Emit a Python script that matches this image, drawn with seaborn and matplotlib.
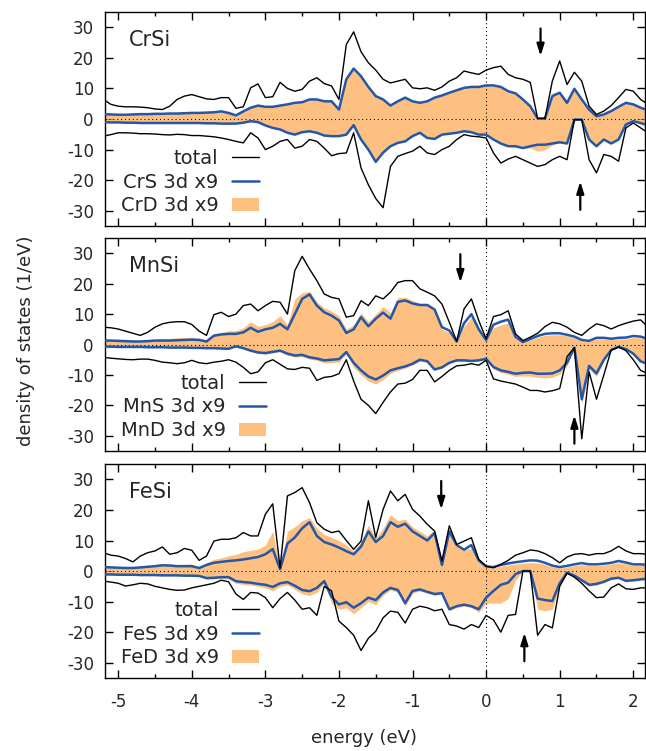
import numpy as np
import pandas as pd
import matplotlib
matplotlib.use("Agg")
import matplotlib.pyplot as plt
import seaborn as sns
from matplotlib.lines import Line2D
from matplotlib.patches import Patch
from matplotlib.ticker import MultipleLocator

# ---------------- data ----------------
energy = np.round(np.arange(-5.2, 2.25, 0.1), 2)   # 75 sample energies (eV)

panel_names = ["CrSi", "MnSi", "FeSi"]
blue_labels = ["CrS 3d x9", "MnS 3d x9", "FeS 3d x9"]
orange_labels = ["CrD 3d x9", "MnD 3d x9", "FeD 3d x9"]

crsi_total_up = [6.4, 4.8, 4.2, 4.0, 4.0, 3.9, 3.7, 3.3, 3.1, 4.2,
                 6.4, 7.5, 8.0, 7.3, 6.6, 6.4, 7.0, 7.0, 3.5, 4.0,
                 10.2, 11.5, 7.0, 7.3, 12.0, 10.0, 9.1, 9.7, 12.4, 13.5,
                 11.6, 10.8, 6.4, 24.4, 28.5, 22.0, 18.4, 16.0, 13.0, 11.8,
                 12.4, 13.0, 10.2, 9.9, 10.2, 9.4, 10.5, 12.4, 13.5, 15.7,
                 15.1, 14.6, 16.0, 16.8, 17.3, 14.6, 13.5, 13.0, 12.0, 0.2,
                 0.2, 12.4, 19.0, 11.3, 15.3, 12.4, 4.2, 1.5, 2.6, 4.4,
                 7.0, 9.7, 9.1, 6.4, 4.8]
crsi_blue_up = [1.6, 1.5, 1.4, 1.4, 1.5, 1.6, 1.6, 1.7, 1.7, 1.8,
                1.8, 1.9, 2.0, 2.0, 2.1, 2.2, 2.5, 2.0, 1.2, 2.5,
                3.7, 4.4, 4.0, 4.0, 4.4, 4.8, 5.3, 5.5, 6.4, 6.4,
                5.8, 5.8, 3.1, 13.0, 16.5, 14.0, 10.5, 7.5, 6.4, 4.4,
                5.8, 7.0, 5.8, 5.3, 5.8, 7.0, 7.7, 8.6, 9.4, 10.2,
                10.5, 10.5, 11.0, 11.0, 10.5, 9.1, 8.4, 6.4, 4.2, 0.2,
                0.2, 7.5, 8.6, 5.3, 9.9, 6.4, 3.1, 0.9, 1.5, 2.6,
                4.0, 5.3, 4.8, 3.7, 2.9]
crsi_orange_up = [1.6, 1.5, 1.4, 1.4, 1.5, 1.6, 1.6, 1.7, 1.7, 1.8,
                  1.8, 1.9, 2.0, 2.0, 2.1, 2.2, 2.5, 2.0, 1.2, 2.5,
                  3.7, 4.4, 4.0, 4.0, 4.4, 4.8, 5.3, 5.5, 6.4, 6.4,
                  5.8, 5.8, 3.1, 13.0, 16.5, 14.0, 10.5, 7.5, 6.4, 4.4,
                  5.8, 7.0, 5.8, 5.3, 5.8, 7.0, 7.7, 8.6, 9.4, 10.2,
                  10.5, 10.5, 11.0, 11.0, 10.5, 9.1, 8.4, 6.4, 4.2, 0.2,
                  0.2, 8.5, 9.0, 5.3, 9.9, 6.4, 3.1, 0.9, 1.5, 2.6,
                  4.0, 5.3, 4.8, 3.7, 2.9]
crsi_blue_dn = [-1.0, -1.1, -1.1, -1.2, -1.2, -1.3, -1.3, -1.3, -1.3, -1.3,
                -1.3, -1.3, -1.3, -1.3, -1.4, -1.4, -1.5, -1.5, -1.5, -1.2,
                -0.7, -1.0, -2.1, -2.9, -3.4, -4.5, -5.1, -4.3, -4.0, -4.5,
                -5.4, -5.6, -5.6, -5.1, -2.0, -6.7, -10.0, -14.0, -11.0, -8.9,
                -7.8, -7.3, -5.6, -4.5, -6.2, -6.5, -5.1, -4.8, -4.5, -4.0,
                -4.3, -5.1, -5.1, -6.7, -8.0, -8.9, -8.9, -9.5, -8.9, -8.4,
                -8.4, -8.0, -7.6, -8.0, -0.2, -0.2, -6.7, -8.9, -6.7, -8.0,
                -6.7, -1.8, -0.7, -1.3, -2.1]
crsi_orange_dn = [-1.0, -1.1, -1.1, -1.2, -1.2, -1.3, -1.3, -1.3, -1.3, -1.3,
                  -1.3, -1.3, -1.3, -1.3, -1.4, -1.4, -1.5, -1.5, -1.5, -1.2,
                  -0.7, -1.0, -2.1, -2.9, -3.4, -4.5, -5.1, -4.3, -4.0, -4.5,
                  -5.4, -5.6, -5.6, -5.1, -2.0, -6.7, -10.0, -14.0, -11.0, -8.9,
                  -7.8, -7.3, -5.6, -4.5, -6.2, -6.5, -5.1, -4.8, -4.5, -4.0,
                  -4.3, -5.1, -5.1, -6.7, -8.0, -8.9, -8.9, -9.5, -9.5, -10.5,
                  -10.0, -8.5, -7.6, -8.0, -0.2, -0.2, -6.7, -8.9, -6.7, -8.0,
                  -6.7, -1.8, -0.7, -1.3, -2.1]
crsi_total_dn = [-5.6, -5.1, -4.5, -4.5, -4.6, -4.8, -4.8, -4.9, -5.1, -5.2,
                 -5.0, -5.1, -5.4, -5.4, -5.6, -5.8, -6.2, -6.7, -7.3, -7.8,
                 -4.5, -6.2, -10.0, -8.9, -7.3, -6.7, -9.5, -8.9, -6.7, -7.3,
                 -9.5, -12.0, -11.3, -11.1, -4.5, -16.0, -21.5, -26.0, -29.0, -15.5,
                 -12.2, -11.3, -10.5, -8.9, -11.1, -11.6, -10.0, -8.9, -6.7, -5.1,
                 -5.6, -5.8, -6.2, -11.1, -14.4, -13.1, -12.2, -13.3, -14.4, -15.5,
                 -14.9, -13.3, -12.2, -13.3, -0.2, -0.2, -13.3, -17.6, -11.6, -12.2,
                 -13.8, -2.9, -1.3, -2.9, -4.5]

mnsi_total_up = [5.7, 5.5, 5.1, 4.4, 3.7, 3.0, 4.0, 5.7, 6.8, 7.3,
                 7.5, 7.5, 6.6, 4.4, 3.0, 9.8, 10.6, 9.2, 10.0, 12.8,
                 13.3, 11.1, 12.8, 14.2, 13.9, 10.0, 24.3, 29.0, 24.8, 21.0,
                 16.6, 15.5, 15.0, 9.0, 9.5, 14.4, 12.8, 16.0, 15.0, 17.2,
                 20.4, 21.0, 21.0, 18.3, 17.2, 16.0, 13.3, 7.3, 1.0, 11.7,
                 15.0, 7.9, 1.9, 9.2, 9.8, 11.1, 3.5, 1.3, 2.4, 3.7,
                 5.9, 7.3, 6.8, 5.7, 4.0, 3.0, 5.1, 6.8, 6.2, 5.1,
                 6.2, 7.0, 7.7, 8.1, 5.7]
mnsi_blue_up = [1.3, 1.3, 1.2, 1.1, 1.0, 1.0, 1.1, 1.3, 1.3, 1.3,
                1.4, 1.5, 1.6, 1.5, 1.0, 2.9, 3.3, 3.5, 3.5, 4.0,
                5.5, 4.2, 5.0, 5.5, 6.8, 5.0, 10.0, 15.0, 16.5, 12.8,
                10.6, 9.5, 7.9, 3.8, 5.0, 9.0, 6.0, 8.5, 10.5, 8.5,
                14.0, 14.5, 13.5, 13.0, 13.0, 11.5, 5.7, 4.6, 1.0, 7.0,
                10.0, 5.0, 1.5, 6.5, 7.5, 8.2, 2.5, 0.8, 1.8, 2.8,
                3.5, 3.7, 3.7, 3.2, 2.6, 1.5, 1.2, 2.2, 2.2, 1.9,
                2.2, 2.3, 2.8, 2.6, 1.8]
mnsi_orange_up = [1.4, 1.4, 1.3, 1.2, 1.2, 1.3, 1.5, 1.7, 1.9, 2.0,
                  2.2, 2.3, 2.4, 2.0, 1.2, 3.6, 4.0, 4.5, 4.6, 5.5,
                  7.5, 6.0, 6.5, 7.5, 9.5, 6.5, 15.0, 17.0, 17.5, 14.0,
                  12.0, 11.0, 9.5, 5.0, 6.5, 10.5, 7.5, 10.0, 12.5, 10.5,
                  15.5, 15.5, 14.5, 13.5, 13.0, 11.0, 5.0, 4.0, 0.8, 6.0,
                  9.0, 4.5, 1.8, 5.5, 6.5, 7.0, 2.0, 0.8, 1.5, 2.4,
                  3.0, 3.2, 3.2, 2.8, 2.2, 1.2, 1.0, 1.8, 1.8, 1.6,
                  1.8, 1.9, 2.3, 2.2, 1.5]
mnsi_blue_dn = [-0.7, -0.7, -0.8, -0.8, -0.8, -0.8, -0.9, -0.9, -0.9, -1.0,
                -1.0, -1.0, -1.1, -1.1, -1.2, -1.2, -1.3, -1.4, -0.6, -1.2,
                -2.0, -2.6, -2.8, -2.4, -2.0, -3.0, -3.6, -3.4, -4.2, -4.6,
                -5.2, -5.0, -4.8, -2.5, -6.0, -8.5, -10.5, -11.5, -10.2, -8.5,
                -7.8, -7.2, -6.3, -5.0, -5.5, -8.2, -7.5, -6.0, -5.2, -5.2,
                -5.4, -5.2, -4.7, -7.4, -8.5, -9.0, -9.6, -9.3, -9.2, -9.6,
                -9.6, -9.5, -8.5, -6.0, -1.0, -18.0, -7.0, -9.5, -5.0, -1.8,
                -0.8, -1.5, -3.0, -5.5, -6.5]
mnsi_orange_dn = [-0.8, -0.8, -0.9, -0.9, -0.9, -0.9, -1.0, -1.0, -1.0, -1.1,
                  -1.1, -1.1, -1.2, -1.2, -1.3, -1.3, -1.4, -1.5, -0.7, -1.4,
                  -2.3, -3.0, -3.2, -2.8, -2.4, -3.5, -4.2, -4.0, -4.8, -5.2,
                  -6.0, -6.0, -5.8, -3.0, -7.5, -10.0, -12.0, -13.0, -11.5, -9.5,
                  -8.5, -7.8, -6.8, -5.5, -5.8, -8.5, -7.8, -6.3, -5.5, -5.5,
                  -5.6, -5.4, -5.0, -8.0, -9.2, -9.8, -10.5, -10.3, -10.4, -10.8,
                  -11.0, -10.8, -9.8, -7.0, -1.2, -19.5, -8.0, -10.5, -5.5, -2.0,
                  -0.9, -1.6, -3.2, -5.8, -6.8]
mnsi_total_dn = [-4.2, -4.5, -4.7, -4.9, -5.0, -4.8, -4.8, -5.2, -5.8, -6.0,
                 -6.3, -6.0, -5.2, -6.0, -6.3, -5.8, -5.5, -5.0, -5.8, -7.5,
                 -9.6, -9.0, -6.0, -5.0, -6.5, -8.0, -8.2, -7.5, -7.8, -11.8,
                 -10.8, -10.5, -9.6, -5.0, -12.0, -18.0, -20.0, -22.7, -19.0, -15.6,
                 -13.0, -12.7, -11.5, -8.5, -8.5, -12.3, -10.5, -8.5, -7.0, -6.8,
                 -6.3, -6.8, -5.2, -11.3, -12.0, -12.5, -13.0, -14.0, -15.1, -15.1,
                 -15.6, -15.2, -14.5, -4.0, -1.0, -31.0, -9.0, -18.0, -10.0, -1.8,
                 -0.8, -2.0, -5.0, -8.5, -9.6]

fesi_total_up = [6.0, 5.2, 4.9, 4.1, 3.0, 4.9, 6.0, 6.6, 7.9, 5.5,
                 6.0, 7.4, 6.8, 3.5, 4.9, 9.8, 10.4, 10.4, 10.9, 12.6,
                 11.5, 11.5, 18.6, 22.0, 1.0, 24.6, 25.7, 27.3, 22.4, 15.8,
                 13.7, 12.6, 13.1, 10.0, 7.1, 9.8, 23.0, 11.0, 20.2, 26.2,
                 23.0, 25.1, 20.2, 18.0, 15.3, 13.1, 3.3, 14.8, 8.7, 9.8,
                 10.9, 3.8, 1.6, 1.1, 2.2, 3.5, 5.2, 6.0, 6.9, 6.6,
                 5.7, 4.4, 2.7, 4.6, 5.5, 5.7, 5.2, 5.7, 5.7, 6.6,
                 8.1, 6.6, 5.7, 5.7, 5.5]
fesi_blue_up = [1.3, 1.2, 1.1, 1.0, 1.0, 1.2, 1.4, 1.6, 1.9, 1.8,
                1.6, 1.6, 1.6, 1.0, 2.0, 2.7, 3.0, 3.3, 3.5, 3.8,
                4.2, 4.6, 5.5, 7.2, 0.6, 9.0, 11.0, 14.0, 16.0, 11.5,
                9.5, 8.7, 7.7, 6.5, 5.5, 8.0, 13.0, 9.5, 11.5, 16.0,
                14.5, 15.5, 13.0, 11.5, 10.0, 12.5, 2.0, 13.0, 8.5, 7.0,
                8.5, 3.5, 1.5, 1.3, 2.0, 2.5, 2.9, 3.2, 3.5, 3.4,
                2.7, 1.8, 1.3, 1.7, 2.2, 2.6, 2.2, 2.2, 2.4, 2.7,
                3.3, 2.8, 2.2, 2.2, 2.0]
fesi_orange_up = [1.4, 1.3, 1.2, 1.1, 1.1, 1.3, 1.6, 1.9, 2.3, 2.3,
                  2.1, 2.2, 2.3, 1.2, 2.8, 3.8, 4.3, 5.0, 5.5, 6.3,
                  6.8, 7.2, 8.5, 13.0, 0.8, 13.0, 14.5, 16.5, 17.5, 14.0,
                  12.0, 11.0, 10.0, 8.5, 6.5, 9.5, 15.0, 11.0, 14.0, 18.5,
                  16.5, 17.0, 14.5, 13.0, 11.5, 13.5, 2.5, 13.5, 9.0, 7.0,
                  7.5, 3.0, 1.3, 1.0, 1.6, 2.0, 2.3, 2.6, 2.8, 2.7,
                  2.2, 1.4, 1.0, 1.3, 1.8, 2.1, 1.8, 1.8, 2.0, 2.3,
                  2.8, 2.4, 1.9, 1.9, 1.7]
fesi_blue_dn = [-1.1, -1.1, -1.2, -1.2, -1.2, -1.3, -1.3, -1.3, -1.4, -1.4,
                -1.4, -1.5, -1.5, -1.6, -2.3, -2.2, -2.0, -2.0, -3.3, -3.6,
                -3.8, -4.2, -4.5, -5.2, -4.0, -3.6, -4.8, -6.2, -6.6, -5.5,
                -3.3, -8.5, -10.9, -10.2, -12.0, -10.5, -8.7, -9.5, -7.0, -5.5,
                -6.2, -10.5, -6.5, -6.0, -6.8, -7.5, -7.2, -12.5, -11.5, -11.0,
                -11.5, -12.5, -8.7, -6.5, -4.5, -3.8, -1.0, 0.0, 0.0, -9.0,
                -9.5, -9.8, -4.0, -0.5, -1.5, -3.0, -4.5, -4.2, -3.5, -2.5,
                -2.2, -3.2, -3.0, -2.7, -2.5]
fesi_orange_dn = [-1.3, -1.3, -1.4, -1.4, -1.4, -1.5, -1.5, -1.5, -1.6, -1.6,
                  -1.6, -1.7, -1.7, -1.8, -2.6, -2.6, -2.5, -2.6, -4.0, -4.4,
                  -4.6, -5.0, -5.5, -6.5, -5.0, -4.5, -6.0, -7.5, -8.0, -7.0,
                  -4.0, -10.5, -12.5, -12.0, -14.0, -12.0, -10.0, -11.0, -8.0, -6.2,
                  -7.0, -11.5, -7.2, -6.5, -7.2, -8.0, -7.6, -13.0, -12.0, -11.5,
                  -12.0, -13.5, -10.5, -10.5, -10.5, -9.0, -3.0, 0.0, 0.0, -12.5,
                  -13.0, -12.5, -5.0, -0.6, -1.6, -3.3, -5.0, -4.6, -3.8, -2.7,
                  -2.4, -3.5, -3.3, -3.0, -2.8]
fesi_total_dn = [-3.3, -3.6, -4.0, -4.9, -4.5, -4.0, -4.2, -5.0, -5.5, -6.0,
                 -6.3, -6.2, -5.5, -5.0, -4.5, -4.0, -3.0, -3.5, -7.5, -9.3,
                 -7.0, -7.2, -8.7, -12.0, -9.0, -7.0, -9.5, -12.5, -12.0, -14.5,
                 -5.0, -6.5, -16.4, -18.5, -21.0, -26.0, -22.0, -19.7, -15.3, -13.1,
                 -13.5, -17.0, -12.5, -11.5, -12.0, -13.0, -12.5, -17.5, -18.0, -19.0,
                 -17.5, -18.5, -14.5, -16.0, -20.0, -14.5, -14.2, 0.0, 0.0, -21.0,
                 -17.5, -18.6, -5.0, -0.7, -2.0, -4.0, -6.5, -8.7, -8.5, -5.5,
                 -4.2, -5.8, -6.0, -5.5, -5.5]

# arrows: (energy, tail value, tip value)
crsi_arrows = [(0.74, 29.6, 20.6), (1.28, -29.7, -20.4)]
mnsi_arrows = [(-0.35, 29.7, 20.4), (1.20, -32.6, -23.3)]
fesi_arrows = [(-0.61, 29.5, 20.2), (0.52, -29.5, -20.2)]

panels = [
    (crsi_total_up, crsi_total_dn, crsi_blue_up, crsi_blue_dn, crsi_orange_up, crsi_orange_dn, crsi_arrows),
    (mnsi_total_up, mnsi_total_dn, mnsi_blue_up, mnsi_blue_dn, mnsi_orange_up, mnsi_orange_dn, mnsi_arrows),
    (fesi_total_up, fesi_total_dn, fesi_blue_up, fesi_blue_dn, fesi_orange_up, fesi_orange_dn, fesi_arrows),
]

# ---------------- style ----------------
sns.set_style("ticks")
plt.rcParams["font.family"] = ["DejaVu Sans"]
plt.rcParams["axes.unicode_minus"] = False
plt.rcParams["axes.linewidth"] = 1.0
plt.rcParams["axes.edgecolor"] = "black"

BLUE = "#2457a8"
ORANGE = "#fdc080"

fig = plt.figure(figsize=(6.46, 7.51), dpi=100)
positions = [(0.1625, 0.699, 0.836, 0.285),
             (0.1625, 0.3995, 0.836, 0.2835),
             (0.1625, 0.0972, 0.836, 0.2848)]

for i, (tu, td, bu, bd, ou, od, arrows) in enumerate(panels):
    ax = fig.add_axes(positions[i])
    df = pd.DataFrame({"energy": energy, "tu": tu, "td": td, "bu": bu,
                       "bd": bd, "ou": ou, "od": od})
    ax.fill_between(df["energy"], 0, df["ou"], color=ORANGE, lw=0, zorder=1)
    ax.fill_between(df["energy"], df["od"], 0, color=ORANGE, lw=0, zorder=1)
    for col in ["bu", "bd"]:
        sns.lineplot(data=df, x="energy", y=col, ax=ax, color=BLUE, lw=1.8,
                     estimator=None, zorder=3)
    for col in ["tu", "td"]:
        sns.lineplot(data=df, x="energy", y=col, ax=ax, color="black", lw=1.0,
                     estimator=None, zorder=4)
    ax.axhline(0, color="black", lw=0.8, ls=(0, (1, 2.5)), zorder=2)
    ax.axvline(0, color="black", lw=0.8, ls=(0, (1, 2.5)), zorder=2)
    for (ex, tail, tip) in arrows:
        ax.annotate("", xy=(ex, tip), xytext=(ex, tail),
                    arrowprops=dict(arrowstyle="-|>,head_length=0.7,head_width=0.22",
                                    color="black", lw=1.6, shrinkA=0, shrinkB=0),
                    zorder=6)
    ax.set_xlim(-5.18, 2.16)
    ax.set_ylim(-35, 35)
    ax.xaxis.set_major_locator(MultipleLocator(1))
    ax.xaxis.set_minor_locator(MultipleLocator(0.5))
    ax.yaxis.set_major_locator(MultipleLocator(10))
    ax.tick_params(which="both", direction="in", top=True, right=True,
                   labelsize=12, width=1.0, color="black")
    ax.tick_params(which="major", length=6, pad=8)
    ax.tick_params(axis="x", which="major", pad=11)
    ax.tick_params(which="minor", length=3)
    ax.set_xlabel("")
    ax.set_ylabel("")
    if i < 2:
        ax.set_xticklabels([])
    for s in ax.spines.values():
        s.set_visible(True)
        s.set_color("black")
    ax.text(0.045, 0.915, panel_names[i], transform=ax.transAxes,
            fontsize=15, va="top", ha="left")
    handles = [Line2D([], [], color="black", lw=1.0),
               Line2D([], [], color=BLUE, lw=1.8),
               Patch(facecolor=ORANGE, edgecolor="none")]
    ax.legend(handles, ["total", blue_labels[i], orange_labels[i]],
              loc="lower left", bbox_to_anchor=(0.0, -0.023),
              markerfirst=False, frameon=False,
              fontsize=14, handlelength=1.4, handletextpad=0.7,
              labelspacing=0.25, borderaxespad=0.4)

fig.text(0.04, 0.546, "density of states (1/eV)", rotation=90,
         ha="center", va="center", fontsize=13)
fig.text(0.563, 0.0175, "energy (eV)", ha="center", va="center", fontsize=13)

fig.savefig("out.png", dpi=100)
